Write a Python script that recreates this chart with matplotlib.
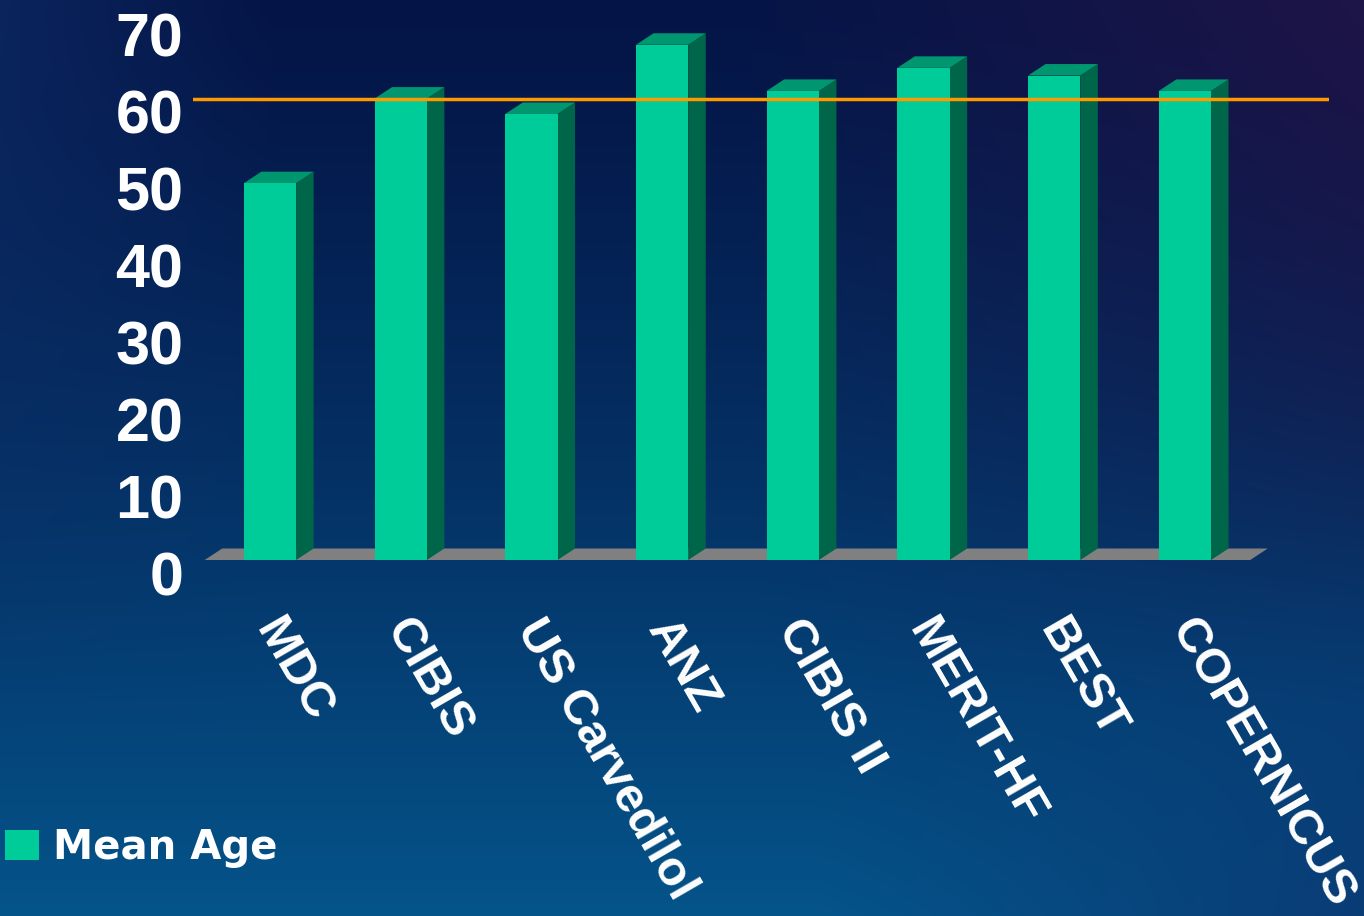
import numpy as np
import matplotlib
matplotlib.use('Agg')
import matplotlib.pyplot as plt
import matplotlib.transforms as mtransforms
from matplotlib.patches import Polygon, Patch

# Données
studies = ['MDC', 'CIBIS', 'US Carvedilol', 'ANZ', 'CIBIS II', 'MERIT-HF', 'BEST', 'COPERNICUS']
mean_age = [49, 60, 58, 67, 61, 64, 63, 61]
reference_age = 60
y_ticks = [0, 10, 20, 30, 40, 50, 60, 70]

# Couleurs
FRONT = '#00CC99'
SIDE = '#00664A'
TOP = '#00966F'
FLOOR = '#808080'
LINE = '#FF9900'

plt.rcParams['font.family'] = ['Liberation Sans', 'DejaVu Sans']
plt.rcParams['font.weight'] = 'bold'

fig = plt.figure(figsize=(13.64, 9.16), dpi=100)

# Fond dégradé (en pixels)
bg = fig.add_axes([0, 0, 1, 1])
bg.axis('off')
H, W = 300, 450
yy, xx = np.mgrid[0:1:H * 1j, 0:1:W * 1j]
top_c = np.array([5, 20, 70]) / 255
bot_c = np.array([4, 84, 138]) / 255
t = (yy ** 1.2)[..., None]
img = top_c * (1 - t) + bot_c * t
purple = np.array([30, 20, 72]) / 255
w = (np.clip((xx - 0.55) / 0.45, 0, 1) * np.clip(1 - yy * 1.3, 0, 1))[..., None]
img = img * (1 - w) + purple * w
w2 = (np.clip(1 - xx / 0.2, 0, 1) * np.clip(1 - yy * 1.2, 0, 1) * 0.6)[..., None]
img = img * (1 - w2) + np.array([14, 48, 108]) / 255 * w2
w3 = (np.clip((xx - 0.6) / 0.4, 0, 1) * np.clip((yy - 0.6) / 0.4, 0, 1) * 0.6)[..., None]
img = img * (1 - w3) + np.array([14, 44, 104]) / 255 * w3
bg.imshow(img, aspect='auto', extent=[0, 1364, 916, 0], interpolation='bicubic')
bg.set_xlim(0, 1364)
bg.set_ylim(916, 0)

# Axe principal (positions en pixels de la figure 1364x916)
ax = fig.add_axes([193 / 1364, 316 / 916, 1136 / 1364, 600 / 916])
ax.set_facecolor('none')
px_x = 130.7
px_y = 7.69
ax.set_xlim((193 - 270) / px_x, (1329 - 270) / px_x)
ax.set_ylim(-(600 - 560) / px_y, 560 / px_y)
for s in ax.spines.values():
    s.set_visible(False)

dx = 17.5 / px_x
dy = 11.5 / px_y
bw = 0.4
x = np.arange(len(studies))

# Sol
ax.add_patch(Polygon([(-0.5, 0), (len(studies) - 0.5, 0),
                      (len(studies) - 0.5 + dx, dy), (-0.5 + dx, dy)],
                     closed=True, facecolor=FLOOR, edgecolor='none', zorder=1))

# Barres 3D
ax.bar(x, mean_age, width=bw, color=FRONT, zorder=3)
for xi, v in zip(x, mean_age):
    r = xi + bw / 2
    l = xi - bw / 2
    ax.add_patch(Polygon([(r, 0), (r + dx, dy), (r + dx, v + dy), (r, v)],
                         closed=True, facecolor=SIDE, edgecolor='none', zorder=2))
    ax.add_patch(Polygon([(l, v), (r, v), (r + dx, v + dy), (l + dx, v + dy)],
                         closed=True, facecolor=TOP, edgecolor='none', zorder=2))

# Ligne de référence
ax.axhline(reference_age, color=LINE, lw=2.5, zorder=5)

# Axe Y
ax.set_yticks(y_ticks)
ax.set_yticklabels([str(v) for v in y_ticks], fontsize=44, color='white', fontweight='bold')
ax.tick_params(axis='y', length=0, pad=7)
off_y = mtransforms.ScaledTranslation(0, -0.13, fig.dpi_scale_trans)
for lab in ax.get_yticklabels():
    lab.set_transform(lab.get_transform() + off_y)

# Axe X
ax.set_xticks(x)
ax.set_xticklabels(studies, fontsize=35, color='white', fontweight='bold',
                   rotation=-60, ha='left', va='top', rotation_mode='anchor')
ax.tick_params(axis='x', length=0, pad=8)
off_x = mtransforms.ScaledTranslation(0.15, 0, fig.dpi_scale_trans)
for lab in ax.get_xticklabels():
    lab.set_transform(lab.get_transform() + off_x)

# Légende
fig.legend(handles=[Patch(facecolor=FRONT, edgecolor='none', label='Mean Age')],
           loc='center left', bbox_to_anchor=(5 / 1364, 1 - 848 / 916),
           frameon=False, handlelength=0.85, handleheight=0.75,
           handletextpad=0.35, borderpad=0, borderaxespad=0,
           labelcolor='white',
           prop={'family': 'DejaVu Sans', 'weight': 'bold', 'size': 29})

fig.savefig('out.png', dpi=100)
